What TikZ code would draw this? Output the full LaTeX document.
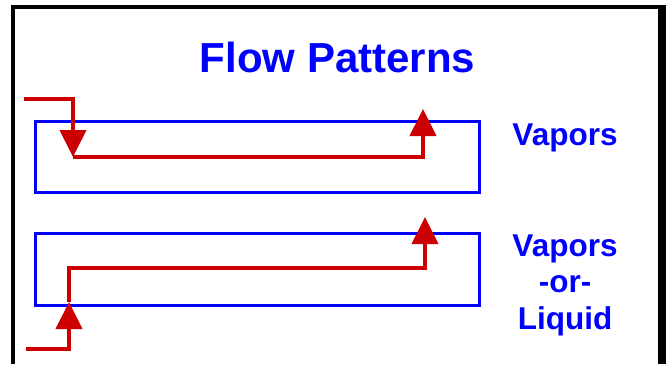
\documentclass[tikz,border=0pt]{standalone}
\usepackage{fontspec}
\setmainfont{Liberation Sans}
\usetikzlibrary{arrows.meta}
\definecolor{flowred}{HTML}{CC0000}
\definecolor{boxblue}{HTML}{0000FF}
\begin{document}
\begin{tikzpicture}[x=1pt,y=-1pt,
  frame/.style={fill=black,draw=none},
  vessel/.style={draw=boxblue,line width=3pt},
  flow/.style={draw=flowred,line width=4pt,line join=miter},
  flowtip/.style={flow,-{Triangle[width=26pt,length=27pt]}},
  lbl/.style={text=boxblue,font=\bfseries\fontsize{31.5}{36.5}\selectfont,align=center,inner sep=0pt},
  title/.style={text=boxblue,font=\bfseries\fontsize{42}{48}\selectfont,inner sep=0pt}]
\useasboundingbox (0,0) rectangle (666,364);
% frame
\fill[frame] (11,5) rectangle (15,364);
\fill[frame] (11,5) rectangle (666,9);
\fill[frame] (658,5) rectangle (666,364);
% title
\node[title,anchor=base] (ttl) at (337.5,72) {Flow Patterns};
% vessels
\draw[vessel] (35,121) rectangle (479,192);
\draw[vessel] (35,233) rectangle (479,305);
% top flow
\coordinate (a0) at (24,99);
\coordinate (a1) at (73,157);
\coordinate (a2) at (423,157);
\coordinate (a3) at (423,109);
\draw[flowtip] (a0) -| (a1);
\draw[flowtip] (a1) -- (a2) -- (a3);
% bottom flow
\coordinate (b0) at (26,349);
\coordinate (b1) at (69,302);
\coordinate (b2) at (69,268);
\coordinate (b3) at (425,268);
\coordinate (b4) at (425,217);
\draw[flowtip] (b0) -| (b1);
\draw[flowtip] (b1) -- (b2) -- (b3) -- (b4);
% labels
\node[lbl,anchor=base] (v1) at (565,145) {Vapors};
\node[lbl,anchor=base] (v2a) at (565,256) {Vapors};
\node[lbl,anchor=base] (v2b) at (565,292.5) {-or-};
\node[lbl,anchor=base] (v2c) at (565,329) {Liquid};
\end{tikzpicture}
\end{document}
